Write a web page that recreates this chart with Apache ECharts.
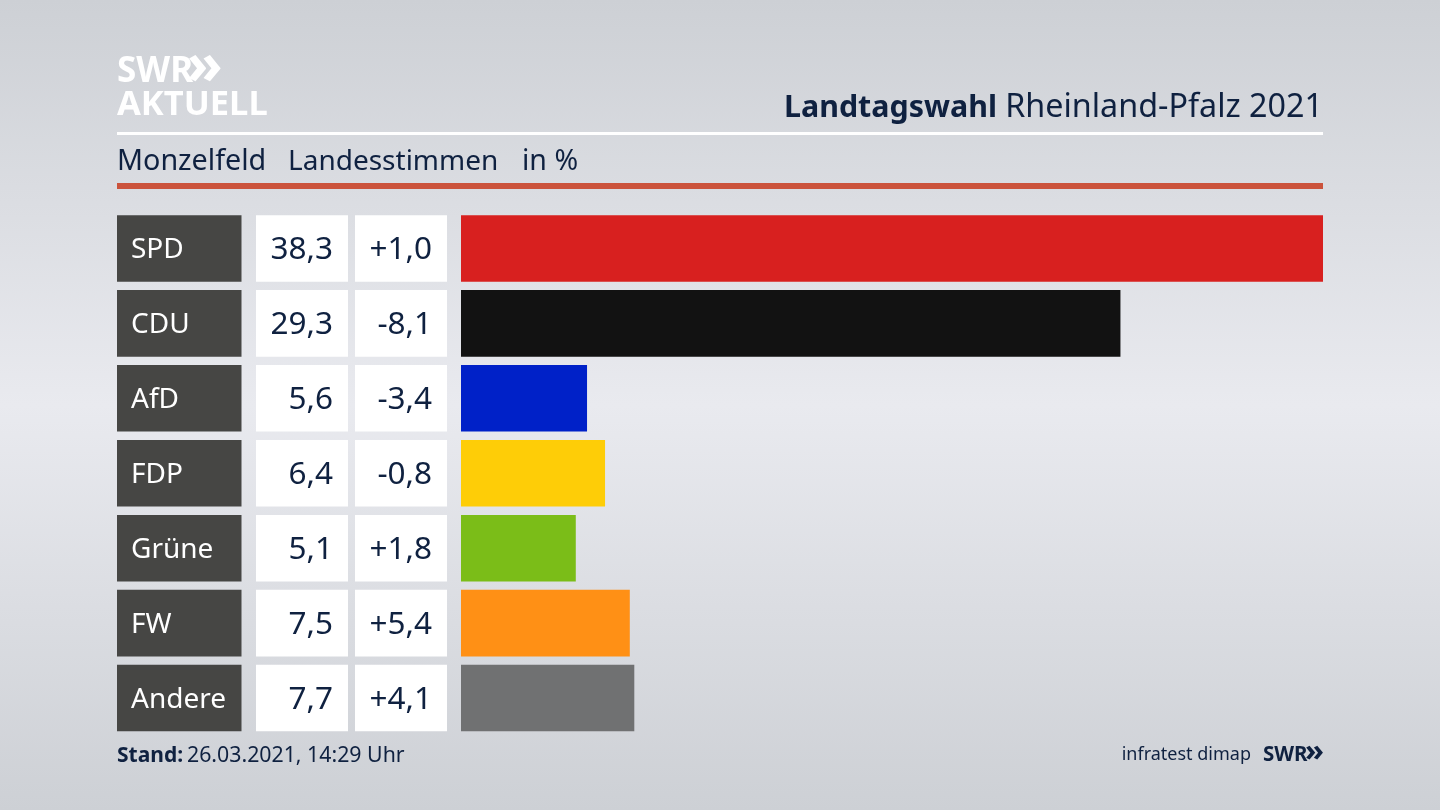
<!DOCTYPE html>
<html lang="de">

<head>
  <meta charset="UTF-8">
  <title>Landtagswahl Rheinland-Pfalz 2021</title>
  <style>
    html, body { margin: 0; padding: 0; }
    #main { width: 1440px; height: 810px; }
  </style>
</head>

<body>
  <div id="main"></div>
  <script src="https://cdn.jsdelivr.net/npm/echarts@6/dist/echarts.min.js"></script>
  <script>
    var parties = ['SPD', 'CDU', 'AfD', 'FDP', 'Grüne', 'FW', 'Andere'];
    var shares = [38.3, 29.3, 5.6, 6.4, 5.1, 7.5, 7.7];
    var changes = ['+1,0', '-8,1', '-3,4', '-0,8', '+1,8', '+5,4', '+4,1'];
    var barColors = ['#d8201f', '#121212', '#0021c8', '#fecd07', '#7bbd18', '#ff9015', '#707172'];

    var navy = '#0f2140';
    var font = '"Noto Sans", sans-serif';

    // same rows for all four columns
    var gridTop = 211, gridHeight = 524.5;
    var barHeight = 66.6;
    var columns = [
      { left: 117, width: 124.5 },
      { left: 256, width: 92 },
      { left: 355, width: 92 },
      { left: 461, width: 862 }
    ];

    function shareText(v) {
      return v.toFixed(1).replace('.', ',');
    }

    // a full width cell with text, used for the three table columns
    function cellSeries(index, color, texts, textColor, pos, dist) {
      return {
        type: 'bar',
        xAxisIndex: index,
        yAxisIndex: index,
        barWidth: barHeight,
        silent: true,
        data: parties.map(function () { return 1; }),
        itemStyle: { color: color },
        label: {
          show: true,
          position: pos,
          distance: dist,
          offset: [0, 2],
          color: textColor,
          fontFamily: font,
          fontSize: index === 0 ? 28 : 31.5,
          formatter: function (p) { return texts[p.dataIndex]; }
        }
      };
    }

    var myChart = echarts.init(document.getElementById('main'));

    var option = {
      animation: false,
      backgroundColor: {
        type: 'linear', x: 0, y: 0, x2: 0, y2: 1,
        colorStops: [
          { offset: 0, color: '#cdd0d5' },
          { offset: 0.5, color: '#e9eaef' },
          { offset: 1, color: '#cdd0d5' }
        ]
      },
      grid: columns.map(function (c) {
        return { left: c.left, width: c.width, top: gridTop, height: gridHeight };
      }),
      xAxis: columns.map(function (c, i) {
        return { type: 'value', gridIndex: i, min: 0, max: i === 3 ? 38.3 : 1, show: false };
      }),
      yAxis: columns.map(function (c, i) {
        return { type: 'category', gridIndex: i, data: parties, inverse: true, show: false };
      }),
      series: [
        cellSeries(0, '#464644', parties, '#ffffff', 'insideLeft', 14),
        cellSeries(1, '#ffffff', shares.map(shareText), navy, 'insideRight', 15),
        cellSeries(2, '#ffffff', changes, navy, 'insideRight', 15),
        {
          type: 'bar',
          xAxisIndex: 3,
          yAxisIndex: 3,
          barWidth: barHeight,
          silent: true,
          data: shares.map(function (v, i) {
            return { value: v, itemStyle: { color: barColors[i] } };
          })
        }
      ],
      graphic: [
        { type: 'rect', shape: { x: 117, y: 132, width: 1206, height: 3 }, style: { fill: '#ffffff' } },
        { type: 'rect', shape: { x: 117, y: 183, width: 1206, height: 6 }, style: { fill: '#cb533c' } },
        {
          type: 'text', x: 117, y: 72,
          style: { text: 'SWR', fill: '#ffffff', font: 'bold 35px ' + font, verticalAlign: 'middle' }
        },
        {
          type: 'text', x: 187, y: 67,
          style: { text: '»', fill: '#ffffff', font: 'bold 58px ' + font, verticalAlign: 'middle' }
        },
        {
          type: 'text', x: 117, y: 105,
          style: { text: 'AKTUELL', fill: '#ffffff', font: 'bold 34.5px ' + font, verticalAlign: 'middle' }
        },
        {
          type: 'text', x: 997, y: 108,
          style: { text: 'Landtagswahl', fill: navy, font: 'bold 30.4px ' + font, align: 'right', verticalAlign: 'middle' }
        },
        {
          type: 'text', x: 1323, y: 108,
          style: { text: 'Rheinland-Pfalz 2021', fill: navy, font: '32.3px ' + font, align: 'right', verticalAlign: 'middle' }
        },
        {
          type: 'text', x: 117, y: 162,
          style: { text: 'Monzelfeld', fill: navy, font: '28.7px ' + font, verticalAlign: 'middle' }
        },
        {
          type: 'text', x: 288, y: 162,
          style: { text: 'Landesstimmen', fill: navy, font: '28px ' + font, verticalAlign: 'middle' }
        },
        {
          type: 'text', x: 522, y: 162,
          style: { text: 'in %', fill: navy, font: '28.5px ' + font, verticalAlign: 'middle' }
        },
        {
          type: 'text', x: 117, y: 756,
          style: { text: 'Stand:', fill: navy, font: 'bold 21px ' + font, verticalAlign: 'middle' }
        },
        {
          type: 'text', x: 187, y: 756,
          style: { text: '26.03.2021, 14:29 Uhr', fill: navy, font: '21.3px ' + font, verticalAlign: 'middle' }
        },
        {
          type: 'text', x: 1251, y: 755,
          style: { text: 'infratest dimap', fill: navy, font: '18px ' + font, align: 'right', verticalAlign: 'middle' }
        },
        {
          type: 'text', x: 1263, y: 755,
          style: { text: 'SWR', fill: navy, font: 'bold 20.5px ' + font, verticalAlign: 'middle' }
        },
        {
          type: 'text', x: 1324, y: 752,
          style: { text: '»', fill: navy, font: 'bold 31px ' + font, align: 'right', verticalAlign: 'middle' }
        }
      ]
    };

    myChart.setOption(option);
  </script>
</body>

</html>
